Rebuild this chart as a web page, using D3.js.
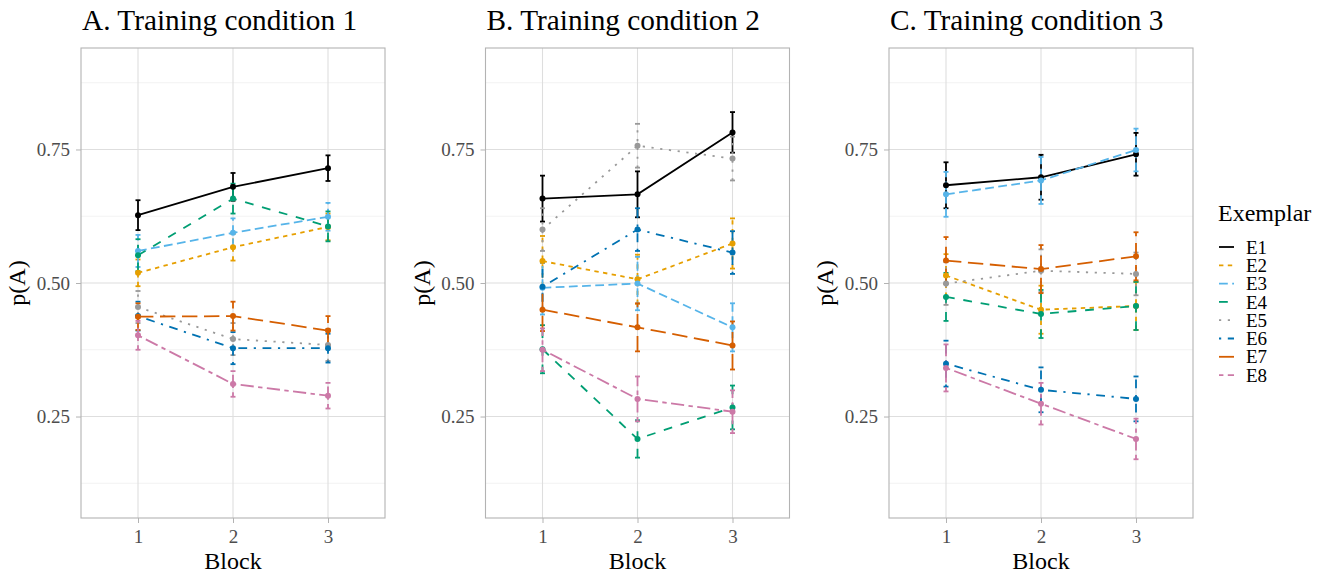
<!DOCTYPE html>
<html><head><meta charset="utf-8">
<script src="https://cdn.jsdelivr.net/npm/d3@7"></script>
<style>body{margin:0;background:#fff}svg{display:block;font-family:"Liberation Serif","Times New Roman",serif}</style>
</head><body><svg id="c" width="1330" height="575"></svg>
<script>
// ---- data ----
const blocks = [1, 2, 3];
const exemplars = ["E1","E2","E3","E4","E5","E6","E7","E8"];
const panelTitles = ["A. Training condition 1","B. Training condition 2","C. Training condition 3"];
const yTicks = [0.25, 0.50, 0.75];
const yMinor = [0.125, 0.375, 0.625, 0.875];
// means per exemplar (rows E1..E8) per block
const cond1Mean = [
  [0.627,0.680,0.715],[0.519,0.567,0.605],[0.560,0.594,0.624],[0.552,0.658,0.606],
  [0.455,0.395,0.384],[0.438,0.378,0.378],[0.437,0.438,0.411],[0.402,0.311,0.289]];
const cond1Err = [
  [0.028,0.026,0.024],[0.025,0.025,0.025],[0.030,0.027,0.026],[0.030,0.028,0.028],
  [0.030,0.030,0.030],[0.027,0.030,0.027],[0.025,0.027,0.027],[0.027,0.024,0.024]];
const cond2Mean = [
  [0.658,0.666,0.782],[0.541,0.507,0.574],[0.491,0.499,0.417],[0.376,0.208,0.267],
  [0.600,0.757,0.733],[0.493,0.600,0.557],[0.450,0.417,0.383],[0.375,0.283,0.259]];
const cond2Err = [
  [0.043,0.043,0.038],[0.047,0.046,0.047],[0.050,0.050,0.045],[0.045,0.035,0.041],
  [0.040,0.041,0.041],[0.045,0.040,0.040],[0.040,0.045,0.045],[0.040,0.042,0.040]];
const cond3Mean = [
  [0.683,0.698,0.741],[0.514,0.450,0.457],[0.666,0.692,0.749],[0.474,0.442,0.457],
  [0.499,0.523,0.517],[0.349,0.300,0.283],[0.542,0.526,0.550],[0.341,0.274,0.208]];
const cond3Err = [
  [0.043,0.042,0.040],[0.040,0.045,0.045],[0.042,0.044,0.040],[0.045,0.045,0.045],
  [0.040,0.040,0.040],[0.043,0.042,0.042],[0.044,0.045,0.045],[0.044,0.039,0.038]];
const colors = ["#000000","#E69F00","#56B4E9","#009E73","#999999","#0072B2","#D55E00","#CC79A7"];
const linetypes = ["solid","22","42","44","13","1343","73","2262"];

// ---- drawing ----
const svg = d3.select("#c");
const means = [cond1Mean, cond2Mean, cond3Mean];
const errs = [cond1Err, cond2Err, cond3Err];
const lefts = [81, 485.5, 889];
const pw = 304, pTop = 48, pBottom = 518;
const lw = 1.8, unit = 2.2;
function dash(lt){ return lt === "solid" ? null : lt.split("").map(c => (+c) * unit).join(","); }

const y = d3.scaleLinear().domain([0.06, 0.94]).range([pBottom, pTop]);

means.forEach((M, p) => {
  const L = lefts[p];
  const x = d3.scaleLinear().domain([0.4, 3.6]).range([L, L + pw]);
  const g = svg.append("g");
  g.selectAll(".ymin").data(yMinor).join("line")
    .attr("x1", L).attr("x2", L + pw).attr("y1", d => y(d)).attr("y2", d => y(d))
    .attr("stroke", "#efefef").attr("stroke-width", 0.8);
  g.selectAll(".ymaj").data(yTicks).join("line")
    .attr("x1", L).attr("x2", L + pw).attr("y1", d => y(d)).attr("y2", d => y(d))
    .attr("stroke", "#dedede").attr("stroke-width", 1.1);
  g.selectAll(".xmaj").data(blocks).join("line")
    .attr("x1", d => x(d)).attr("x2", d => x(d)).attr("y1", pTop).attr("y2", pBottom)
    .attr("stroke", "#dedede").attr("stroke-width", 1.1);

  const ya = d3.axisLeft(y).tickValues(yTicks).tickFormat(d3.format(".2f")).tickSize(5).tickPadding(6);
  const yg = svg.append("g").attr("transform", `translate(${L},0)`).call(ya);
  const xa = d3.axisBottom(x).tickValues(blocks).tickFormat(d3.format("d")).tickSize(5).tickPadding(6);
  const xg = svg.append("g").attr("transform", `translate(0,${pBottom})`).call(xa);
  [yg, xg].forEach(a => {
    a.select(".domain").remove();
    a.selectAll(".tick line").attr("stroke", "#b3b3b3").attr("stroke-width", 1);
    a.selectAll(".tick text").attr("fill", "#4d4d4d").style("font-size", "19px")
      .style("font-family", "'Liberation Serif','Times New Roman',serif");
  });
  xg.selectAll(".tick text").attr("dy", "0.75em");

  const E = errs[p];
  const dg = svg.append("g");
  exemplars.forEach((ex, i) => {
    const s = dg.append("g");
    blocks.forEach((b, j) => {
      const m = M[i][j], e = E[i][j];
      s.append("line").attr("x1", x(b)).attr("x2", x(b)).attr("y1", y(m - e)).attr("y2", y(m + e))
        .attr("stroke", colors[i]).attr("stroke-width", lw).attr("stroke-dasharray", dash(linetypes[i]));
      [m - e, m + e].forEach(v => s.append("line")
        .attr("x1", x(b) - 2.5).attr("x2", x(b) + 2.5).attr("y1", y(v)).attr("y2", y(v))
        .attr("stroke", colors[i]).attr("stroke-width", lw));
    });
  });
  exemplars.forEach((ex, i) => {
    const line = d3.line().x((d, j) => x(blocks[j])).y(d => y(d));
    dg.append("path").attr("d", line(M[i])).attr("fill", "none")
      .attr("stroke", colors[i]).attr("stroke-width", lw)
      .attr("stroke-dasharray", dash(linetypes[i]));
  });
  exemplars.forEach((ex, i) => {
    dg.selectAll(null).data(M[i]).join("circle")
      .attr("cx", (d, j) => x(blocks[j])).attr("cy", d => y(d)).attr("r", 3)
      .attr("fill", colors[i]);
  });

  svg.append("rect").attr("x", L).attr("y", pTop).attr("width", pw).attr("height", pBottom - pTop)
    .attr("fill", "none").attr("stroke", "#b3b3b3").attr("stroke-width", 1.1);

  svg.append("text").attr("x", L + 1).attr("y", 30).style("font-size", "29.3px").attr("fill", "#000")
    .text(panelTitles[p]);
  svg.append("text").attr("x", L + pw / 2).attr("y", 569).attr("text-anchor", "middle")
    .style("font-size", "24px").text("Block");
  svg.append("text").attr("transform", `translate(${L - 56},${(pTop + pBottom) / 2}) rotate(-90)`)
    .attr("text-anchor", "middle").style("font-size", "24px").text("p(A)");
});

const lg = svg.append("g");
lg.append("text").attr("x", 1218).attr("y", 221).style("font-size", "24px").text("Exemplar");
exemplars.forEach((ex, i) => {
  const cy = 247 + i * 18.3;
  lg.append("line").attr("x1", 1219).attr("x2", 1234).attr("y1", cy).attr("y2", cy)
    .attr("stroke", colors[i]).attr("stroke-width", lw).attr("stroke-dasharray", dash(linetypes[i]));
  lg.append("text").attr("x", 1246).attr("y", cy).attr("dy", "0.35em").style("font-size", "19px").text(ex);
});
</script></body></html>
